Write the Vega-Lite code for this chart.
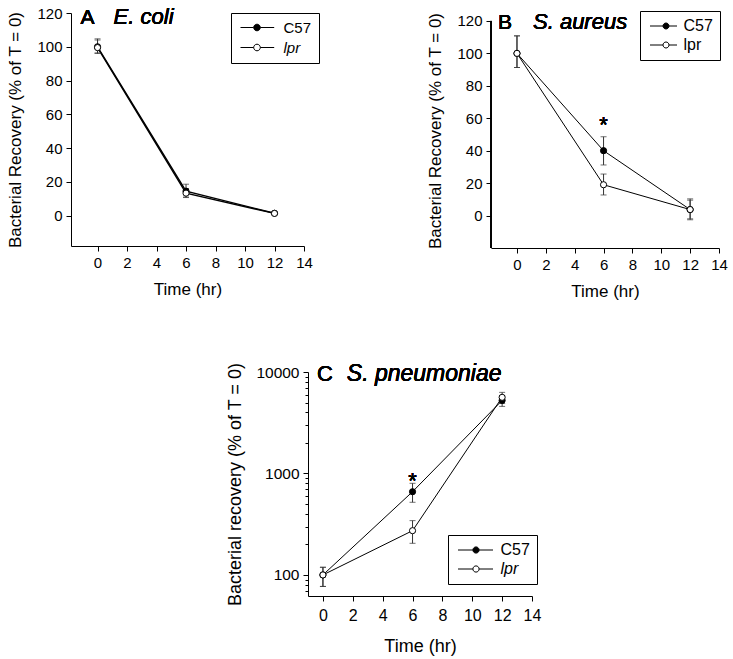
{
  "$schema": "https://vega.github.io/schema/vega-lite/v6.json",
  "padding": {"left": 6, "top": 5, "right": 5, "bottom": 5},
  "background": "white",
  "config": {
    "font": "Liberation Sans",
    "view": {"stroke": null},
    "text": {"fontWeight": "normal"},
    "axis": {"grid": false, "domainColor": "black", "tickColor": "black", "labelColor": "black", "titleColor": "black", "labelFont": "Liberation Sans", "titleFont": "Liberation Sans", "labelFontSize": 15, "titleFontSize": 17, "titleFontWeight": "normal", "tickSize": 5, "labelPadding": 4, "domainWidth": 1, "tickWidth": 1, "labelOverlap": false, "labelFlush": false, "labelBound": false}
  },
  "datasets": {
    "ecoli": [
      {"time": 0, "strain": "C57", "value": 100, "lo": 96.4, "hi": 104.7},
      {"time": 6, "strain": "C57", "value": 14.5, "lo": 10.7, "hi": 18.6},
      {"time": 12, "strain": "C57", "value": 1.4, "lo": 1.0, "hi": 1.8},
      {"time": 0, "strain": "lpr", "value": 99.5, "lo": 96.0, "hi": 104.0},
      {"time": 6, "strain": "lpr", "value": 13.3, "lo": 11.0, "hi": 16.0},
      {"time": 12, "strain": "lpr", "value": 1.3, "lo": 1.0, "hi": 1.6}
    ],
    "saureus": [
      {"time": 0, "strain": "C57", "value": 100, "lo": 91.3, "hi": 110.8},
      {"time": 6, "strain": "C57", "value": 40, "lo": 31.2, "hi": 48.6},
      {"time": 12, "strain": "C57", "value": 3.7, "lo": -2.6, "hi": 10.3},
      {"time": 0, "strain": "lpr", "value": 100, "lo": 91.3, "hi": 110.8},
      {"time": 6, "strain": "lpr", "value": 19, "lo": 12.7, "hi": 25.6},
      {"time": 12, "strain": "lpr", "value": 3.7, "lo": -2.0, "hi": 9.5}
    ],
    "spneu": [
      {"time": 0, "strain": "C57", "value": 100, "lo": 77, "hi": 119},
      {"time": 6, "strain": "C57", "value": 661, "lo": 520, "hi": 800},
      {"time": 12, "strain": "C57", "value": 5250, "lo": 4580, "hi": 5800},
      {"time": 0, "strain": "lpr", "value": 100, "lo": 77, "hi": 119},
      {"time": 6, "strain": "lpr", "value": 273, "lo": 205, "hi": 343},
      {"time": 12, "strain": "lpr", "value": 5630, "lo": 4900, "hi": 6300}
    ]
  },
  "spacing": 63,
  "resolve": {"scale": {"fill": "independent"}, "legend": {"fill": "independent"}},
  "vconcat": [
    {
      "bounds": "flush",
      "spacing": 187,
      "resolve": {"scale": {"fill": "independent"}, "legend": {"fill": "independent"}},
      "hconcat": [
        {
          "width": 233, "height": 233,
          "data": {"name": "ecoli"},
          "encoding": {
            "x": {"field": "time", "type": "quantitative", "title": "Time (hr)", "scale": {"domain": [-1.8, 14], "nice": false, "zero": false}, "axis": {"values": [0, 2, 4, 6, 8, 10, 12, 14], "titlePadding": 11, "labelOverlap": false}},
            "y": {"field": "value", "type": "quantitative", "title": "Bacterial Recovery (% of T = 0)", "scale": {"domain": [-18, 120], "nice": false, "zero": false}, "axis": {"values": [0, 20, 40, 60, 80, 100, 120], "titlePadding": 12, "labelOverlap": false}}
          },
          "layer": [
            {
              "mark": {"type": "line", "color": "black", "strokeWidth": 1.4},
              "encoding": {"detail": {"field": "strain"}}
            },
            {
              "mark": {"type": "errorbar", "color": "#333", "ticks": {"size": 6, "color": "#333"}},
              "encoding": {
                "y": {"field": "lo", "type": "quantitative", "title": "Bacterial Recovery (% of T = 0)", "axis": {"values": [0, 20, 40, 60, 80, 100, 120], "titlePadding": 12, "labelOverlap": false}},
                "y2": {"field": "hi"},
                "detail": {"field": "strain"}
              }
            },
            {
              "mark": {"type": "point", "filled": true, "stroke": "black", "strokeWidth": 1, "size": 38, "opacity": 1},
              "encoding": {
                "fill": {"field": "strain", "type": "nominal", "scale": {"domain": ["C57", "lpr"], "range": ["black", "white"]},
                  "legend": {"title": null, "orient": "none", "legendX": 160, "legendY": 0, "symbolType": "M-1,0H1.64M2.96,0H5.74M2.96,0A0.66,0.66,0,1,1,1.64,0A0.66,0.66,0,1,1,2.96,0Z", "symbolSize": 100, "symbolStrokeColor": "black", "symbolStrokeWidth": 1, "symbolOpacity": 1, "strokeColor": "black", "fillColor": "white", "padding": 7, "rowPadding": 4, "labelFontSize": 15, "labelColor": "black", "labelOffset": 30.5,
                    "encode": {"labels": {"update": {"fontStyle": {"signal": "datum.value === 'lpr' ? 'italic' : 'normal'"}}}}}}
              }
            },
            {
              "mark": {"type": "text", "text": "A", "fontSize": 21, "fontWeight": "normal", "align": "left", "baseline": "alphabetic", "color": "black"},
              "encoding": {"x": {"datum": -1.16, "title": "Time (hr)", "axis": {"values": [0, 2, 4, 6, 8, 10, 12, 14], "titlePadding": 11, "labelOverlap": false}}, "y": {"datum": 113.5, "title": "Bacterial Recovery (% of T = 0)", "axis": {"values": [0, 20, 40, 60, 80, 100, 120], "titlePadding": 12, "labelOverlap": false}}}
            },
            {
              "mark": {"type": "text", "text": "E. coli", "fontSize": 22, "fontWeight": "normal", "fontStyle": "italic", "align": "left", "baseline": "alphabetic", "color": "black"},
              "encoding": {"x": {"datum": 1.09, "title": "Time (hr)", "axis": {"values": [0, 2, 4, 6, 8, 10, 12, 14], "titlePadding": 11, "labelOverlap": false}}, "y": {"datum": 113.5, "title": "Bacterial Recovery (% of T = 0)", "axis": {"values": [0, 20, 40, 60, 80, 100, 120], "titlePadding": 12, "labelOverlap": false}}}
            }
          ]
        },
        {
          "width": 228, "height": 235,
          "data": {"name": "saureus"},
          "encoding": {
            "x": {"field": "time", "type": "quantitative", "title": "Time (hr)", "scale": {"domain": [-1.8, 14], "nice": false, "zero": false}, "axis": {"values": [0, 2, 4, 6, 8, 10, 12, 14], "titlePadding": 11, "labelOverlap": false}},
            "y": {"field": "value", "type": "quantitative", "title": "Bacterial Recovery (% of T = 0)", "scale": {"domain": [-20, 124.9], "nice": false, "zero": false}, "axis": {"values": [0, 20, 40, 60, 80, 100, 120], "titlePadding": 12, "domain": false, "labelOverlap": false}}
          },
          "layer": [
            {
              "mark": {"type": "line", "color": "black", "strokeWidth": 1},
              "encoding": {"detail": {"field": "strain"}}
            },
            {
              "mark": {"type": "rule", "color": "black", "strokeWidth": 1},
              "encoding": {"x": {"datum": -1.8, "title": "Time (hr)", "axis": {"values": [0, 2, 4, 6, 8, 10, 12, 14], "titlePadding": 11, "labelOverlap": false}}, "y": {"datum": -20, "title": "Bacterial Recovery (% of T = 0)", "axis": {"values": [0, 20, 40, 60, 80, 100, 120], "titlePadding": 12, "domain": false, "labelOverlap": false}}, "y2": {"datum": 120}}
            },
            {
              "mark": {"type": "errorbar", "color": "#333", "ticks": {"size": 6, "color": "#333"}},
              "encoding": {
                "y": {"field": "lo", "type": "quantitative", "title": "Bacterial Recovery (% of T = 0)", "axis": {"values": [0, 20, 40, 60, 80, 100, 120], "titlePadding": 12, "domain": false, "labelOverlap": false}},
                "y2": {"field": "hi"},
                "detail": {"field": "strain"}
              }
            },
            {
              "mark": {"type": "point", "filled": true, "stroke": "black", "strokeWidth": 1, "size": 38, "opacity": 1},
              "encoding": {
                "fill": {"field": "strain", "type": "nominal", "scale": {"domain": ["C57", "lpr"], "range": ["black", "white"]},
                  "legend": {"title": null, "orient": "none", "legendX": 149, "legendY": -2, "symbolType": "M-1,0H1.6M2.8,0H4.4M2.8,0A0.6,0.6,0,1,1,1.6,0A0.6,0.6,0,1,1,2.8,0Z", "symbolSize": 100, "symbolStrokeColor": "black", "symbolStrokeWidth": 1, "symbolOpacity": 1, "strokeColor": "black", "fillColor": "white", "padding": 7, "rowPadding": 3, "labelFontSize": 16, "labelColor": "black", "labelOffset": 20.5}}
              }
            },
            {
              "mark": {"type": "text", "text": "B", "fontSize": 21, "fontWeight": "normal", "align": "left", "baseline": "alphabetic", "color": "black"},
              "encoding": {"x": {"datum": -1.32, "title": "Time (hr)", "axis": {"values": [0, 2, 4, 6, 8, 10, 12, 14], "titlePadding": 11, "labelOverlap": false}}, "y": {"datum": 115, "title": "Bacterial Recovery (% of T = 0)", "axis": {"values": [0, 20, 40, 60, 80, 100, 120], "titlePadding": 12, "domain": false, "labelOverlap": false}}}
            },
            {
              "mark": {"type": "text", "text": "S. aureus", "fontSize": 22, "fontWeight": "normal", "fontStyle": "italic", "align": "left", "baseline": "alphabetic", "color": "black"},
              "encoding": {"x": {"datum": 1.11, "title": "Time (hr)", "axis": {"values": [0, 2, 4, 6, 8, 10, 12, 14], "titlePadding": 11, "labelOverlap": false}}, "y": {"datum": 115, "title": "Bacterial Recovery (% of T = 0)", "axis": {"values": [0, 20, 40, 60, 80, 100, 120], "titlePadding": 12, "domain": false, "labelOverlap": false}}}
            },
            {
              "mark": {"type": "text", "text": "*", "fontSize": 22, "fontWeight": "normal", "align": "center", "baseline": "alphabetic", "color": "black"},
              "encoding": {"x": {"datum": 6, "title": "Time (hr)", "axis": {"values": [0, 2, 4, 6, 8, 10, 12, 14], "titlePadding": 11, "labelOverlap": false}}, "y": {"datum": 51.8, "title": "Bacterial Recovery (% of T = 0)", "axis": {"values": [0, 20, 40, 60, 80, 100, 120], "titlePadding": 12, "domain": false, "labelOverlap": false}}}
            }
          ]
        }
      ]
    },
    {
      "bounds": "flush",
      "spacing": 20,
      "resolve": {"scale": {"fill": "independent"}, "legend": {"fill": "independent"}},
      "hconcat": [
        {"width": 217, "height": 1, "data": {"values": [{}]}, "mark": {"type": "point", "opacity": 0}},
        {
          "width": 224, "height": 224,
          "data": {"name": "spneu"},
          "encoding": {
            "x": {"field": "time", "type": "quantitative", "title": "Time (hr)", "scale": {"domain": [-1, 14], "nice": false, "zero": false}, "axis": {"values": [0, 2, 4, 6, 8, 10, 12, 14], "titlePadding": 14, "labelPadding": 6, "labelOverlap": false, "labelFontSize": 16, "titleFontSize": 18}},
            "y": {"field": "value", "type": "quantitative", "title": "Bacterial recovery (% of T = 0)", "scale": {"type": "log", "domain": [62, 10000], "nice": false, "zero": false},
              "axis": {"values": [70, 80, 90, 100, 200, 300, 400, 500, 600, 700, 800, 900, 1000, 2000, 3000, 4000, 5000, 6000, 7000, 8000, 9000, 10000], "labelExpr": "datum.value == 100 || datum.value == 1000 || datum.value == 10000 ? format(datum.value, 'd') : ''", "tickSize": {"condition": {"test": "datum.value == 100 || datum.value == 1000 || datum.value == 10000", "value": 5}, "value": 3}, "titlePadding": 11, "labelOverlap": false, "labelFontSize": 15.5, "titleFontSize": 18}}
          },
          "layer": [
            {
              "mark": {"type": "line", "color": "black", "strokeWidth": 1},
              "encoding": {"detail": {"field": "strain"}}
            },
            {
              "mark": {"type": "errorbar", "color": "#333", "ticks": {"size": 6, "color": "#333"}},
              "encoding": {
                "y": {"field": "lo", "type": "quantitative", "title": "Bacterial recovery (% of T = 0)"},
                "y2": {"field": "hi"},
                "detail": {"field": "strain"}
              }
            },
            {
              "mark": {"type": "point", "filled": true, "stroke": "black", "strokeWidth": 1, "size": 38, "opacity": 1},
              "encoding": {
                "fill": {"field": "strain", "type": "nominal", "scale": {"domain": ["C57", "lpr"], "range": ["black", "white"]},
                  "legend": {"title": null, "orient": "none", "legendX": 140, "legendY": 163, "symbolType": "M-1,0H1.98M3.22,0H6M3.22,0A0.62,0.62,0,1,1,1.98,0A0.62,0.62,0,1,1,3.22,0Z", "symbolSize": 100, "symbolStrokeColor": "black", "symbolStrokeWidth": 1, "symbolOpacity": 1, "strokeColor": "black", "fillColor": "white", "padding": 7, "rowPadding": 3, "labelFontSize": 16, "labelColor": "black", "labelOffset": 29.5,
                    "encode": {"labels": {"update": {"fontStyle": {"signal": "datum.value === 'lpr' ? 'italic' : 'normal'"}}}}}}
              }
            },
            {
              "mark": {"type": "text", "text": "C", "fontSize": 22, "fontWeight": "normal", "align": "left", "baseline": "alphabetic", "color": "black"},
              "encoding": {"x": {"datum": -0.4, "title": "Time (hr)"}, "y": {"datum": 8150, "title": "Bacterial recovery (% of T = 0)"}}
            },
            {
              "mark": {"type": "text", "text": "S. pneumoniae", "fontSize": 23, "fontWeight": "normal", "fontStyle": "italic", "align": "left", "baseline": "alphabetic", "color": "black"},
              "encoding": {"x": {"datum": 1.6, "title": "Time (hr)"}, "y": {"datum": 8150, "title": "Bacterial recovery (% of T = 0)"}}
            },
            {
              "mark": {"type": "text", "text": "*", "fontSize": 22, "fontWeight": "normal", "align": "center", "baseline": "alphabetic", "color": "black"},
              "encoding": {"x": {"datum": 6, "title": "Time (hr)"}, "y": {"datum": 713, "title": "Bacterial recovery (% of T = 0)"}}
            }
          ]
        }
      ]
    }
  ]
}
